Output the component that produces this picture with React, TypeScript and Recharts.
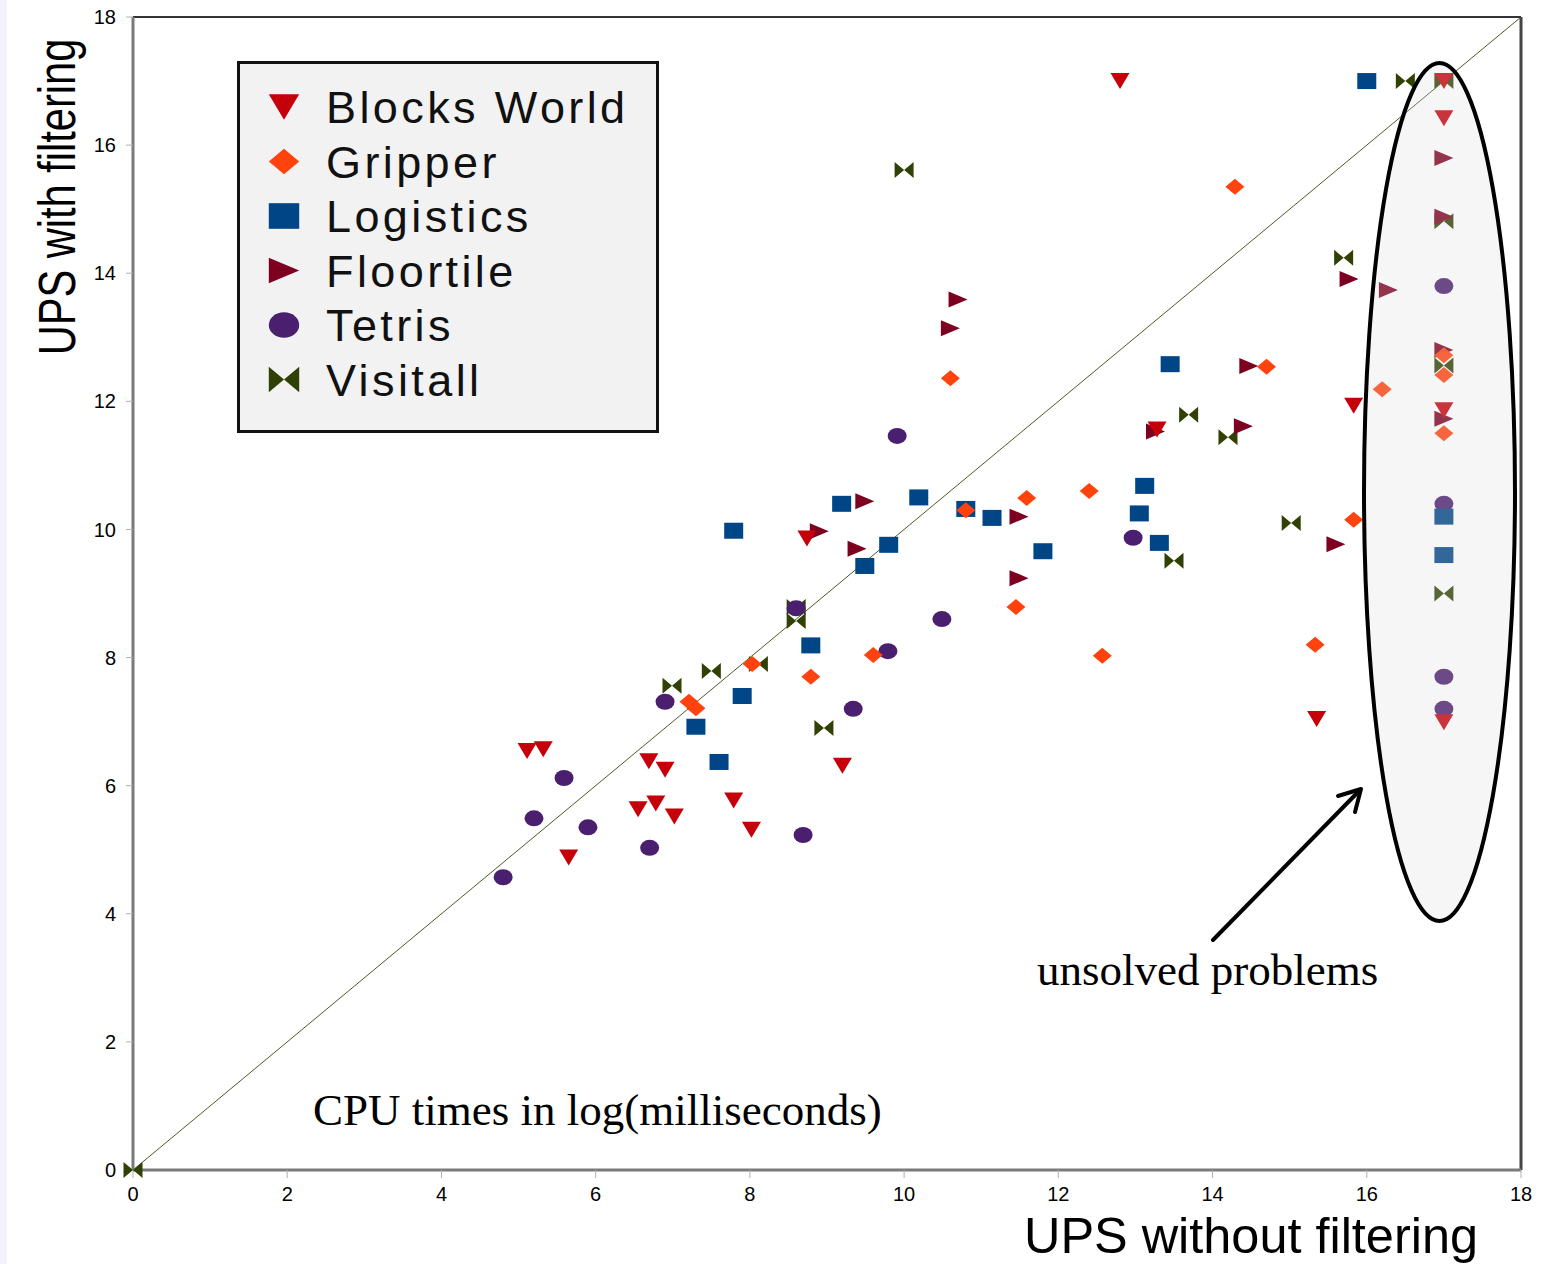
import React from "react"
import { ScatterChart, Scatter, XAxis, YAxis, ReferenceLine, Legend } from "recharts"

type Pt = { x: number; y: number }

// values (log ms)
const blocksWorld: Pt[] = [
  { x: 12.8, y: 17.0 }, { x: 17.0, y: 17.0 }, { x: 17.0, y: 16.42 }, { x: 15.83, y: 11.93 },
  { x: 17.0, y: 11.86 }, { x: 13.28, y: 11.56 }, { x: 15.35, y: 7.04 }, { x: 17.0, y: 6.99 },
  { x: 8.74, y: 9.86 }, { x: 5.11, y: 6.54 }, { x: 5.32, y: 6.57 }, { x: 6.69, y: 6.38 },
  { x: 6.9, y: 6.25 }, { x: 6.55, y: 5.63 }, { x: 6.78, y: 5.72 }, { x: 7.02, y: 5.52 },
  { x: 5.65, y: 4.88 }, { x: 7.79, y: 5.77 }, { x: 8.02, y: 5.31 }, { x: 9.2, y: 6.31 },
]

const gripper: Pt[] = [
  { x: 14.29, y: 15.35 }, { x: 10.6, y: 12.36 }, { x: 14.7, y: 12.54 }, { x: 17.0, y: 12.72 },
  { x: 17.0, y: 12.41 }, { x: 16.2, y: 12.19 }, { x: 17.0, y: 11.5 }, { x: 15.83, y: 10.15 },
  { x: 12.4, y: 10.6 }, { x: 11.59, y: 10.49 }, { x: 10.8, y: 10.3 }, { x: 11.45, y: 8.79 },
  { x: 12.57, y: 8.03 }, { x: 15.33, y: 8.2 }, { x: 9.6, y: 8.04 }, { x: 8.79, y: 7.7 },
  { x: 8.03, y: 7.9 }, { x: 7.21, y: 7.31 }, { x: 7.3, y: 7.21 },
]

const logistics: Pt[] = [
  { x: 16.0, y: 17.0 }, { x: 13.45, y: 12.58 }, { x: 13.12, y: 10.68 }, { x: 13.05, y: 10.25 },
  { x: 13.31, y: 9.79 }, { x: 11.8, y: 9.66 }, { x: 11.14, y: 10.18 }, { x: 10.8, y: 10.32 },
  { x: 10.19, y: 10.5 }, { x: 9.8, y: 9.76 }, { x: 9.19, y: 10.4 }, { x: 9.49, y: 9.43 },
  { x: 7.79, y: 9.98 }, { x: 8.79, y: 8.19 }, { x: 7.9, y: 7.4 }, { x: 7.3, y: 6.92 },
  { x: 7.6, y: 6.37 }, { x: 17.0, y: 10.2 }, { x: 17.0, y: 9.6 },
]

const floortile: Pt[] = [
  { x: 17.0, y: 15.8 }, { x: 17.0, y: 14.88 }, { x: 15.77, y: 13.91 }, { x: 16.28, y: 13.74 },
  { x: 17.0, y: 12.8 }, { x: 14.47, y: 12.55 }, { x: 17.0, y: 11.73 }, { x: 14.4, y: 11.61 },
  { x: 13.26, y: 11.53 }, { x: 11.49, y: 10.2 }, { x: 11.49, y: 9.24 }, { x: 10.7, y: 13.59 },
  { x: 10.6, y: 13.14 }, { x: 9.49, y: 10.44 }, { x: 8.9, y: 9.97 }, { x: 9.39, y: 9.7 },
  { x: 15.6, y: 9.77 },
]

const tetris: Pt[] = [
  { x: 17.0, y: 13.8 }, { x: 17.0, y: 10.4 }, { x: 17.0, y: 7.7 }, { x: 17.0, y: 7.2 },
  { x: 9.91, y: 11.46 }, { x: 12.97, y: 9.87 }, { x: 10.49, y: 8.6 }, { x: 9.79, y: 8.1 },
  { x: 8.6, y: 8.77 }, { x: 9.34, y: 7.2 }, { x: 6.9, y: 7.31 }, { x: 5.59, y: 6.12 },
  { x: 5.2, y: 5.49 }, { x: 5.9, y: 5.35 }, { x: 6.7, y: 5.03 }, { x: 8.69, y: 5.23 },
  { x: 4.8, y: 4.57 },
]

const visitall: Pt[] = [
  { x: 0, y: 0 }, { x: 16.5, y: 17.0 }, { x: 17.0, y: 17.0 }, { x: 17.0, y: 14.81 },
  { x: 15.7, y: 14.24 }, { x: 17.0, y: 12.56 }, { x: 13.69, y: 11.79 }, { x: 14.2, y: 11.44 },
  { x: 15.02, y: 10.1 }, { x: 13.5, y: 9.51 }, { x: 17.0, y: 9.0 }, { x: 10.0, y: 15.61 },
  { x: 8.6, y: 8.79 }, { x: 8.6, y: 8.57 }, { x: 8.96, y: 6.9 }, { x: 8.11, y: 7.9 },
  { x: 7.5, y: 7.79 }, { x: 6.99, y: 7.56 },
]

const axisTicks = [0, 2, 4, 6, 8, 10, 12, 14, 16, 18]

type Kind = "down" | "diamond" | "square" | "right" | "circle" | "bowtie"

const series: { name: string; data: Pt[]; color: string; kind: Kind }[] = [
  { name: "Blocks World", data: blocksWorld, color: "#c5000b", kind: "down" },
  { name: "Gripper", data: gripper, color: "#ff420e", kind: "diamond" },
  { name: "Logistics", data: logistics, color: "#004586", kind: "square" },
  { name: "Floortile", data: floortile, color: "#7e0021", kind: "right" },
  { name: "Tetris", data: tetris, color: "#4b1f6f", kind: "circle" },
  { name: "Visitall", data: visitall, color: "#314004", kind: "bowtie" },
]

// draw order: visitall at the bottom, blocks world on top
const drawOrder = ["Visitall", "Tetris", "Logistics", "Floortile", "Gripper", "Blocks World"]

const FONT = "'Liberation Sans', Arial, sans-serif"
const SERIF = "'Liberation Serif', 'Times New Roman', serif"

function marker(kind: Kind, cx: number, cy: number, fill: string, s = 1) {
  const w = 9.5 * s
  const h = 8 * s
  switch (kind) {
    case "down":
      return <path d={`M${cx - w},${cy - h}L${cx + w},${cy - h}L${cx},${cy + h}Z`} fill={fill} />
    case "diamond":
      return <path d={`M${cx - w},${cy}L${cx},${cy - h}L${cx + w},${cy}L${cx},${cy + h}Z`} fill={fill} />
    case "square":
      return <rect x={cx - w} y={cy - h} width={2 * w} height={2 * h} fill={fill} />
    case "right":
      return <path d={`M${cx - w},${cy - h}L${cx + w},${cy}L${cx - w},${cy + h}Z`} fill={fill} />
    case "circle":
      return <ellipse cx={cx} cy={cy} rx={w} ry={h} fill={fill} />
    case "bowtie":
      return (
        <path
          d={`M${cx - w},${cy - h}L${cx},${cy}L${cx - w},${cy + h}Z M${cx + w},${cy - h}L${cx},${cy}L${cx + w},${cy + h}Z`}
          fill={fill}
        />
      )
  }
}

function LegendBox() {
  return (
    <svg width={422} height={372}>
      <rect x={1.5} y={1.5} width={419} height={369} fill="#f2f2f2" stroke="#111" strokeWidth={3} />
      {series.map((s, i) => {
        const cy = 46 + i * 54.5
        return (
          <g key={s.name}>
            {marker(s.kind, 47, cy, s.color, 1.6)}
            <text x={89} y={cy + 16} fontSize={45} fontFamily={FONT} fill="#111" letterSpacing={3.4}>
              {s.name}
            </text>
          </g>
        )
      })}
    </svg>
  )
}

export default function App() {
  const ordered = drawOrder.map((n) => series.find((s) => s.name === n)!)
  return (
    <div style={{ position: "absolute", left: 0, top: 0, width: 1541, height: 1264, background: "#fff" }}>
      <div style={{ position: "absolute", left: 0, top: 0, width: 7, height: 1264, background: "#f3f3fd" }} />
      <ScatterChart width={1541} height={1264} margin={{ top: 17, right: 20, left: 73, bottom: 64 }}>
        <XAxis
          type="number"
          dataKey="x"
          domain={[0, 18]}
          ticks={axisTicks}
          height={30}
          tickSize={8}
          tickMargin={9}
          axisLine={{ stroke: "#7a7a7a", strokeWidth: 3 }}
          tickLine={{ stroke: "#b0b0b0" }}
          tick={{ fontSize: 20, fill: "#000", fontFamily: FONT }}
          label={() => (
            <text x={1024} y={1253} fontSize={50} fontFamily={FONT} fill="#000" textLength={454} lengthAdjust="spacingAndGlyphs">
              UPS without filtering
            </text>
          )}
        />
        <YAxis
          type="number"
          dataKey="y"
          domain={[0, 18]}
          ticks={axisTicks}
          width={60}
          tickSize={7}
          tickMargin={10}
          axisLine={{ stroke: "#7a7a7a", strokeWidth: 3 }}
          tickLine={{ stroke: "#b0b0b0" }}
          tick={{ fontSize: 20, fill: "#000", fontFamily: FONT }}
          label={() => (
            <text
              x={0}
              y={0}
              transform="translate(75, 197) rotate(-90) scale(0.8, 1)"
              textAnchor="middle"
              fontSize={52}
              fontFamily={FONT}
              fill="#000"
            >
              UPS with filtering
            </text>
          )}
        />
        <ReferenceLine y={18} stroke="#333" strokeWidth={2} />
        <ReferenceLine x={18} stroke="#444" strokeWidth={3} />
        <ReferenceLine segment={[{ x: 0, y: 0 }, { x: 18, y: 18 }]} stroke="#4e5a26" strokeWidth={1} />
        {ordered.map((s) => (
          <Scatter
            key={s.name}
            name={s.name}
            data={s.data}
            fill={s.color}
            isAnimationActive={false}
            shape={(p: any) => marker(s.kind, p.cx, p.cy, s.color)}
          />
        ))}
        <Legend
          layout="vertical"
          align="center"
          verticalAlign="middle"
          wrapperStyle={{ position: "absolute", left: 237, top: 61, width: 422, height: 372 }}
          content={() => <LegendBox />}
        />
      </ScatterChart>
      <svg width={1541} height={1264} style={{ position: "absolute", left: 0, top: 0, pointerEvents: "none" }}>
        <ellipse cx={1439.5} cy={492} rx={75.5} ry={429} fill="rgb(217,217,217)" fillOpacity={0.235} stroke="#000" strokeWidth={4} />
        <line x1={1213} y1={940} x2={1360} y2={790} stroke="#000" strokeWidth={4} strokeLinecap="round" />
        <polyline points="1338,796 1361,789 1355,812" fill="none" stroke="#000" strokeWidth={4} strokeLinecap="round" strokeLinejoin="round" />
        <text x={1037} y={985} fontSize={45} fontFamily={SERIF} fill="#000">
          unsolved problems
        </text>
        <text x={313} y={1125} fontSize={45} fontFamily={SERIF} fill="#000">
          CPU times in log(milliseconds)
        </text>
      </svg>
    </div>
  )
}
